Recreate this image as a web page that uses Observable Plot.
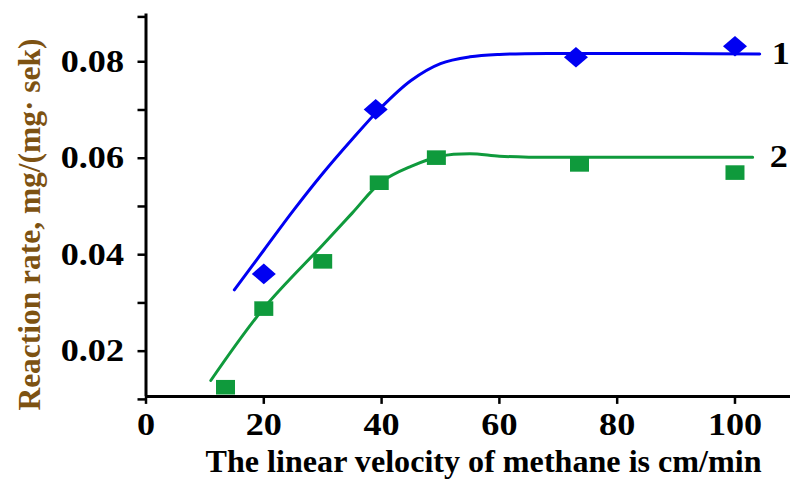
<!DOCTYPE html>
<html>
<head>
<meta charset="utf-8">
<script src="https://cdn.jsdelivr.net/npm/d3@7"></script>
<script src="https://cdn.jsdelivr.net/npm/@observablehq/plot@0.6"></script>
<style>
  html, body { margin: 0; padding: 0; background: #fff; }
</style>
</head>
<body>
<div id="chart"></div>
<script>
// ---- data ----
const xTicks = [0, 20, 40, 60, 80, 100];
const yMajorTicks = [0.02, 0.04, 0.06, 0.08];
const yMinorTicks = [0.01, 0.03, 0.05, 0.07];
const xDomain = [0, 108];
const yDomain = [0.01, 0.0893];

// series 1 (blue diamonds)
const s1X = [20, 39, 73, 100];
const s1Y = [0.0354, 0.0695, 0.0803, 0.0826];
// series 2 (green squares)
const s2X = [13.5, 20, 30, 39.6, 49.3, 73.6, 100];
const s2Y = [0.0119, 0.0282, 0.0380, 0.0543, 0.0595, 0.0581, 0.0564];

// fitted curves as drawn in the reference
const c1X = [15, 20, 25, 30, 35, 40, 45, 50, 55, 60, 70, 80, 90, 104.2];
const c1Y = [0.0321, 0.0403, 0.0485, 0.0562, 0.0633, 0.0700, 0.0755, 0.0790, 0.0804, 0.0809, 0.0811, 0.0811, 0.0811, 0.0810];
const c2X = [11, 20, 30, 35, 40, 45, 50, 55, 60, 65, 80, 103];
const c2Y = [0.0133, 0.0283, 0.0414, 0.0480, 0.0545, 0.0577, 0.0598, 0.0603, 0.0598, 0.0596, 0.0596, 0.0596];

const seriesNames = ["1", "2"];
const xLabel = "The linear velocity of methane is cm/min";
const yLabel = "Reaction rate, mg/(mg· sek)";

const blue = "#0000f2";
const green = "#0f9a3c";

// ---- tables ----
const pts1 = s1X.map((x, i) => ({x, y: s1Y[i]}));
const pts2 = s2X.map((x, i) => ({x, y: s2Y[i]}));
const curve1 = c1X.map((x, i) => ({x, y: c1Y[i]}));
const curve2 = c2X.map((x, i) => ({x, y: c2Y[i]}));
const end1 = [{x: c1X[c1X.length - 1], y: c1Y[c1Y.length - 1], name: seriesNames[0]}];
const end2 = [{x: c2X[c2X.length - 1], y: c2Y[c2Y.length - 1], name: seriesNames[1]}];

// custom symbols (the reference markers are wider than tall)
const wideDiamond = {
  draw(ctx, size) {
    const r = Math.sqrt(size / Math.PI);
    const hw = 1.2 * r, hh = 1.03 * r;
    ctx.moveTo(0, -hh); ctx.lineTo(hw, 0); ctx.lineTo(0, hh); ctx.lineTo(-hw, 0); ctx.closePath();
  }
};
const wideSquare = {
  draw(ctx, size) {
    const r = Math.sqrt(size / Math.PI);
    const hw = 0.95 * r, hh = 0.73 * r;
    ctx.rect(-hw, -hh, 2 * hw, 2 * hh);
  }
};

const allY = [...yMajorTicks, ...yMinorTicks, yDomain[1]];

const plot = Plot.plot({
  width: 790,
  height: 479,
  marginLeft: 145.5,
  marginRight: 8.4,
  marginTop: 13.4,
  marginBottom: 83.1,
  x: {domain: xDomain},
  y: {domain: yDomain},
  style: {
    fontFamily: "'Liberation Serif', 'Times New Roman', serif",
    fontWeight: "bold",
    color: "#000",
    background: "#fff",
    overflow: "visible"
  },
  marks: [
    Plot.axisY({
      ticks: allY,
      tickSize: 8,
      tickPadding: 14,
      strokeWidth: 2.5,
      fontSize: 32,
      dy: 3,
      label: null,
      tickFormat: d => yMajorTicks.includes(d) ? d.toFixed(2) : null
    }),
    Plot.axisX({
      ticks: xTicks,
      tickSize: 8,
      tickPadding: 8,
      strokeWidth: 2.5,
      fontSize: 32,
      label: null,
      tickFormat: d => String(d)
    }),
    Plot.ruleX([xDomain[0]], {y1: yDomain[0], y2: yDomain[1], stroke: "#000", strokeWidth: 3}),
    Plot.ruleY([yDomain[0]], {x1: xDomain[0], x2: 110, stroke: "#000", strokeWidth: 3}),
    Plot.line(curve1, {x: "x", y: "y", stroke: blue, strokeWidth: 3, curve: "catmull-rom"}),
    Plot.line(curve2, {x: "x", y: "y", stroke: green, strokeWidth: 3, curve: "catmull-rom"}),
    Plot.dot(pts1, {x: "x", y: "y", symbol: wideDiamond, r: 10, fill: blue, stroke: "none"}),
    Plot.dot(pts2, {x: "x", y: "y", symbol: wideSquare, r: 10, fill: green, stroke: "none"}),
    Plot.text(end1, {x: "x", y: "y", text: "name", dx: 12, textAnchor: "start", fontSize: 32, fontWeight: "bold", fill: "#000"}),
    Plot.text(end2, {x: "x", y: "y", text: "name", dx: 17, textAnchor: "start", fontSize: 32, fontWeight: "bold", fill: "#000"}),
    Plot.text([xLabel], {frameAnchor: "bottom", dx: 19.5, dy: 65.5, textAnchor: "middle", lineAnchor: "middle", fontSize: 31, fontWeight: "bold", fill: "#000"}),
    Plot.text([yLabel], {frameAnchor: "left", rotate: -90, dx: -116, dy: 19.4, textAnchor: "middle", lineAnchor: "middle", fontSize: 31, fontWeight: "bold", fill: "#7d5212"})
  ]
});

document.getElementById("chart").appendChild(plot);

// horizontal stretch of the glyphs, as in the reference
const stretch = 1.13;
plot.querySelectorAll('g[aria-label="x-axis tick label"] text, g[aria-label="y-axis tick label"] text').forEach(t => {
  const L = t.getComputedTextLength();
  if (L > 0) { t.setAttribute("textLength", (L * stretch).toFixed(1)); t.setAttribute("lengthAdjust", "spacingAndGlyphs"); }
});
plot.querySelectorAll("text").forEach(t => {
  const s = t.textContent;
  if (s === xLabel) { t.setAttribute("textLength", "556"); t.setAttribute("lengthAdjust", "spacingAndGlyphs"); }
  if (s === yLabel) { t.setAttribute("textLength", "372"); t.setAttribute("lengthAdjust", "spacingAndGlyphs"); }
  if (seriesNames.includes(s)) {
    const L = t.getComputedTextLength();
    t.setAttribute("textLength", (L * stretch).toFixed(1)); t.setAttribute("lengthAdjust", "spacingAndGlyphs");
  }
});
</script>
</body>
</html>
